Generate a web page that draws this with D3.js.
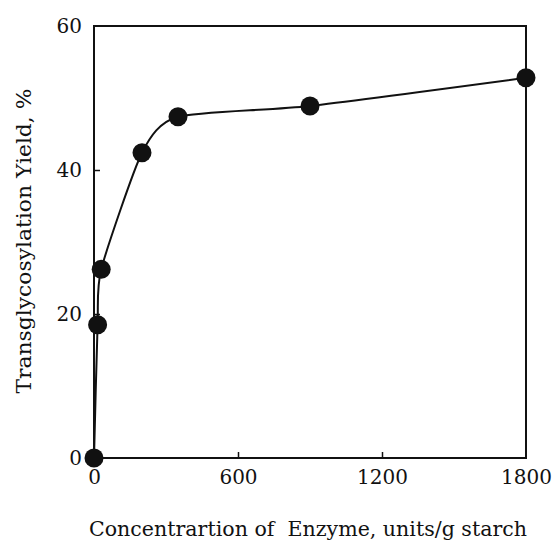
<!DOCTYPE html>
<html>
<head>
<script src="https://d3js.org/d3.v7.min.js"></script>
<style>
  body { margin: 0; background: #fff; }
  text { font-family: "DejaVu Serif", "Liberation Serif", serif; fill: #111; }
</style>
</head>
<body>
<svg id="chart" width="555" height="543"></svg>
<script>
// data
const enzyme = [0, 15, 30, 200, 350, 900, 1800];
const yieldPct = [0, 18.5, 26.2, 42.4, 47.4, 48.9, 52.8];
const xTicks = [0, 600, 1200, 1800];
const yTicks = [0, 20, 40, 60];

const svg = d3.select("#chart");
const margin = { top: 26, right: 29, bottom: 85, left: 94 };
const width = 555 - margin.left - margin.right;
const height = 543 - margin.top - margin.bottom;

const g = svg.append("g")
    .attr("transform", "translate(" + margin.left + "," + margin.top + ")");

const x = d3.scaleLinear().domain([0, 1800]).range([0, width]);
const y = d3.scaleLinear().domain([0, 60]).range([height, 0]);

// frame
g.append("rect")
    .attr("width", width).attr("height", height)
    .attr("fill", "none").attr("stroke", "#111").attr("stroke-width", 2);

// inward ticks
const xAxis = g.append("g")
    .attr("transform", "translate(0," + height + ")")
    .call(d3.axisBottom(x).tickValues(xTicks).tickFormat(d3.format("d")).tickSize(-6).tickPadding(12));
const yAxis = g.append("g")
    .call(d3.axisLeft(y).tickValues(yTicks).tickFormat(d3.format("d")).tickSize(-6).tickPadding(12));

[xAxis, yAxis].forEach(a => {
  a.attr("font-family", null).attr("font-size", null);
  a.select(".domain").remove();
  a.selectAll("line").attr("stroke", "#111").attr("stroke-width", 1.5);
  a.selectAll("text").style("font-size", "20px").attr("fill", "#111");
});
xAxis.selectAll("line").filter(d => d === 0 || d === 1800).remove();
yAxis.selectAll("line").filter(d => d === 0 || d === 60).remove();

// fitted curve
const pts = enzyme.map((e, i) => [e, yieldPct[i]]);
const line = d3.line()
    .x(d => x(d[0])).y(d => y(d[1]))
    .curve(d3.curveCardinal.tension(0.35));

g.append("path").datum(pts)
    .attr("d", line)
    .attr("fill", "none").attr("stroke", "#111").attr("stroke-width", 2);

g.selectAll("circle.pt").data(pts)
  .join("circle")
    .attr("class", "pt")
    .attr("cx", d => x(d[0]))
    .attr("cy", d => y(d[1]))
    .attr("r", 9.5)
    .attr("fill", "#111");

// axis titles
svg.append("text")
    .attr("x", 308).attr("y", 536)
    .attr("text-anchor", "middle")
    .attr("textLength", 438)
    .attr("lengthAdjust", "spacingAndGlyphs")
    .style("font-size", "21px")
    .text("Concentrartion of\u00a0 Enzyme, units/g starch");

svg.append("text")
    .attr("transform", "translate(31,241) rotate(-90)")
    .attr("text-anchor", "middle")
    .attr("textLength", 305)
    .attr("lengthAdjust", "spacingAndGlyphs")
    .style("font-size", "21px")
    .text("Transglycosylation Yield, %");
</script>
</body>
</html>
